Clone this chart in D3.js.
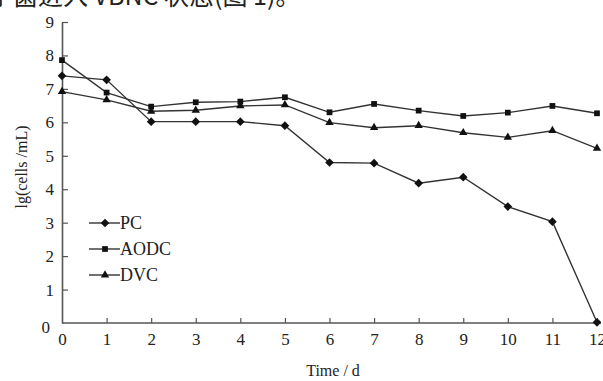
<!DOCTYPE html>
<html>
<head>
<meta charset="utf-8">
<script src="https://cdn.jsdelivr.net/npm/d3@7/dist/d3.min.js"></script>
<style>
  body { margin: 0; background: #fff; }
  svg { display: block; }
  text { font-family: "Liberation Serif", "Times New Roman", serif; fill: #222; }
</style>
</head>
<body>
<div id="chart"></div>
<script>
// values
const days = [0, 1, 2, 3, 4, 5, 6, 7, 8, 9, 10, 11, 12];
const pcValues = [7.39, 7.27, 6.02, 6.02, 6.02, 5.9, 4.8, 4.78, 4.18, 4.36, 3.48, 3.03, 0.02];
const aodcValues = [7.86, 6.89, 6.47, 6.6, 6.62, 6.75, 6.3, 6.55, 6.35, 6.19, 6.29, 6.49, 6.27];
const dvcValues = [6.92, 6.67, 6.33, 6.36, 6.49, 6.52, 5.99, 5.84, 5.9, 5.69, 5.55, 5.75, 5.22];
const yTicks = [0, 1, 2, 3, 4, 5, 6, 7, 8, 9];
const seriesNames = ['PC', 'AODC', 'DVC'];
const caption = '于菌进入 VBNC 状态(图 1)。';

const width = 603, height = 381;
const margin = { left: 62, right: 6, top: 22, bottom: 58 };
const ink = '#2a2a2a';

const svg = d3.select('#chart').append('svg')
  .attr('width', width)
  .attr('height', height);

// clipped caption line from the surrounding page
svg.append('text')
  .attr('x', -12)
  .attr('y', 5)
  .style('font-family', '"Noto Sans CJK SC", "Liberation Serif", serif')
  .style('font-size', '25px')
  .text(caption);

const x = d3.scaleLinear().domain([0, 12]).range([margin.left, 597]);
const y = d3.scaleLinear().domain([0, 9]).range([323, margin.top]);

// axes
const xAxis = svg.append('g')
  .attr('transform', `translate(0, ${y(0)})`)
  .call(d3.axisBottom(x).tickValues(days).tickSize(-5).tickPadding(10).tickSizeOuter(0));
xAxis.select('.domain').attr('d', `M${x(0)},0H${width - 2}`);

const yAxis = svg.append('g')
  .attr('transform', `translate(${x(0)}, 0)`)
  .call(d3.axisLeft(y).tickValues(yTicks).tickSize(-6).tickPadding(8).tickSizeOuter(0));

[xAxis, yAxis].forEach(g => {
  g.select('.domain').attr('stroke', '#555').attr('stroke-width', 1.6);
  g.selectAll('.tick line').attr('stroke', '#555').attr('stroke-width', 1.2);
  g.selectAll('.tick text')
    .style('font-family', '"Liberation Serif", serif')
    .style('font-size', '17px')
    .attr('fill', ink);
});
xAxis.selectAll('.tick').filter(d => d === 0).select('line').remove();
yAxis.selectAll('.tick').filter(d => d === 0).select('line').remove();
yAxis.selectAll('.tick').filter(d => d === 0).select('text').attr('dx', -4).attr('dy', '0.55em');

// axis titles
svg.append('text')
  .attr('x', 333)
  .attr('y', 376)
  .attr('text-anchor', 'middle')
  .style('font-size', '16px')
  .text('Time / d');

svg.append('text')
  .attr('transform', 'translate(27, 167) rotate(-90)')
  .attr('text-anchor', 'middle')
  .style('font-size', '16px')
  .text('lg(cells /mL)');

// series
const symbols = [d3.symbolDiamond2, d3.symbolSquare2, d3.symbolTriangle2];
const symbolSizes = [48, 42, 50];
const allValues = [pcValues, aodcValues, dvcValues];

const line = d3.line()
  .x((d, i) => x(days[i]))
  .y(d => y(d));

allValues.forEach((vals, k) => {
  svg.append('path')
    .datum(vals)
    .attr('fill', 'none')
    .attr('stroke', '#333')
    .attr('stroke-width', 1.4)
    .attr('d', line);

  svg.append('g').selectAll('path')
    .data(vals)
    .join('path')
    .attr('transform', (d, i) => `translate(${x(days[i])}, ${y(d)})`)
    .attr('d', d3.symbol(symbols[k], symbolSizes[k]))
    .attr('fill', '#111');
});

// legend
const legend = svg.append('g').attr('transform', 'translate(89, 223)');
seriesNames.forEach((name, k) => {
  const row = legend.append('g').attr('transform', `translate(0, ${k * 26})`);
  row.append('line')
    .attr('x1', 0).attr('x2', 31)
    .attr('stroke', '#333').attr('stroke-width', 1.4);
  row.append('path')
    .attr('transform', 'translate(16, 0)')
    .attr('d', d3.symbol(symbols[k], symbolSizes[k]))
    .attr('fill', '#111');
  row.append('text')
    .attr('x', 31)
    .attr('dy', '0.35em')
    .style('font-size', '18px')
    .text(name);
});
</script>
</body>
</html>
